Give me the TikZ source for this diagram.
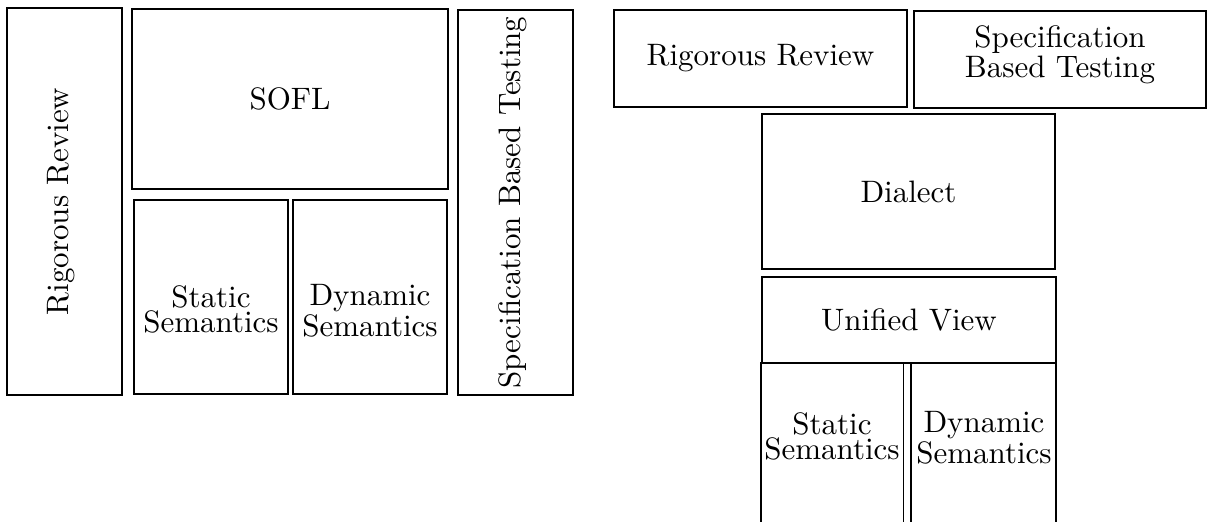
\documentclass[tikz,border=0pt]{standalone}
\usetikzlibrary{fit}
% two centred lines set tight, with only a small gap between them
\newcommand{\twoline}[2]{\vbox{\offinterlineskip\halign{\hfil##\hfil\cr #1\cr\noalign{\kern0.8pt}#2\cr}}}
\begin{document}
\begin{tikzpicture}[x=0.3226pt, y=-0.3226pt,
  blk/.style={draw, line width=0.6pt, inner sep=0pt, outer sep=0pt},
  lbl/.style={inner sep=0pt, font=\normalsize}]
\useasboundingbox (0,0) rectangle (1207,522);
\clip (0,0) rectangle (1207,522);

% ---- layered view: review and testing around the SOFL core ----
\node[blk, fit={(7,8) (122,395)}] (rrL) {};
\node[blk, fit={(132,9) (448,189)}] (sofl) {};
\node[blk, fit={(134,200) (288,394)}] (statL) {};
\node[blk, fit={(293,200) (447,394)}] (dynL) {};
\node[blk, fit={(458,10) (573,395)}] (sbtL) {};

\node[lbl, rotate=90] (rrLt) at ([xshift=-1.2pt]rrL.center) {Rigorous Review};
\node[lbl] (soflt) at (sofl.center) {SOFL};
\node[lbl] (statLt) at (211,309) {\twoline{Static}{Semantics}};
\node[lbl] (dynLt) at (370,311) {\twoline{Dynamic}{Semantics}};
\node[lbl, rotate=90] (sbtLt) at ([xshift=-0.8pt]sbtL.center) {Specification Based Testing};

% ---- stacked view: dialect on a unified semantic base ----
\node[blk, fit={(614,10) (907,107)}] (rrR) {};
\node[blk, fit={(914,11) (1206,108)}] (sbtR) {};
\node[blk, fit={(762,114) (1055,269)}] (dia) {};
\node[blk, fit={(762,277) (1056,363)}] (uni) {};
\node[blk, fit={(761,363) (903.5,600)}] (statR) {};
\node[blk, fit={(911,363) (1056,600)}] (dynR) {};

\node[lbl] (rrRt) at (rrR.center) {Rigorous Review};
\node[lbl] (sbtRt) at (1060,55) {\twoline{Specification}{Based Testing}};
\node[lbl] (diat) at (dia.center) {Dialect};
\node[lbl] (unit) at (uni.center) {Unified View};
\node[lbl] (statRt) at (832,436) {\twoline{Static}{Semantics}};
\node[lbl] (dynRt) at (984,438) {\twoline{Dynamic}{Semantics}};
\end{tikzpicture}
\end{document}
